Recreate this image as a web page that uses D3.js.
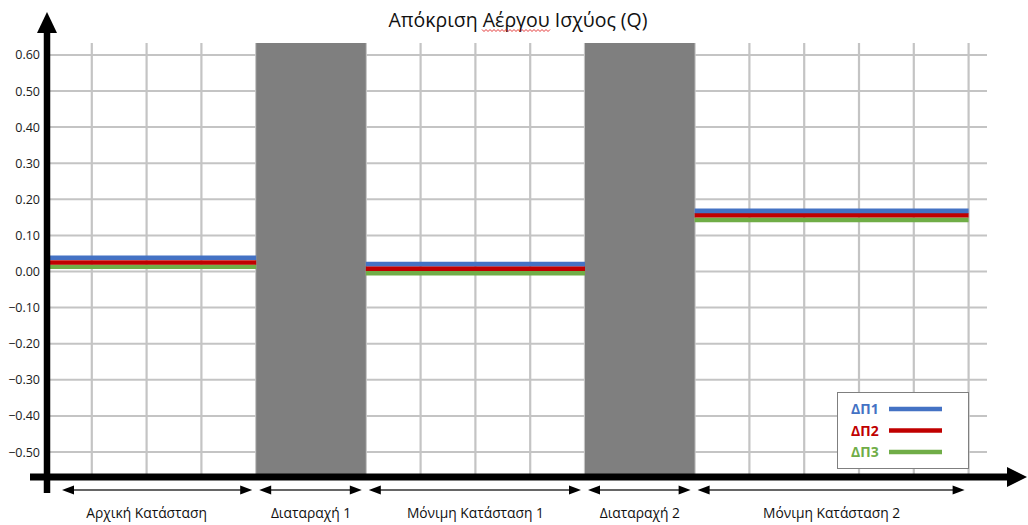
<!DOCTYPE html>
<html>
<head>
<meta charset="utf-8">
<script src="https://cdn.jsdelivr.net/npm/d3@7"></script>
<style>
  html, body { margin: 0; padding: 0; background: #fff; }
  svg { display: block; font-family: "Open Sans", "Noto Sans", sans-serif; }
</style>
</head>
<body>
<svg id="chart" width="1028" height="525"></svg>
<script>
// Operating phases along the time axis and their relative durations (grid units)
const phases = ["Αρχική Κατάσταση", "Διαταραχή 1", "Μόνιμη Κατάσταση 1", "Διαταραχή 2", "Μόνιμη Κατάσταση 2"];
const durations = [4, 2, 4, 2, 5];
const disturbance = [false, true, false, true, false];

// Reactive power response per distributed generator (null during disturbances)
const seriesNames = ["ΔΠ1", "ΔΠ2", "ΔΠ3"];
const dp1 = [0.038, null, 0.021, null, 0.168];
const dp2 = [0.025, null, 0.008, null, 0.156];
const dp3 = [0.013, null, -0.005, null, 0.143];
const seriesColors = ["#4472C4", "#C00000", "#70AD47"];

const yTicks = [0.6, 0.5, 0.4, 0.3, 0.2, 0.1, 0.0, -0.1, -0.2, -0.3, -0.4, -0.5];

const svg = d3.select("#chart");

// Plot frame
const axisX = 47, axisY = 477, plotTop = 43, plotRight = 987;

// Cumulative phase boundaries
const bounds = [0];
durations.forEach(d => bounds.push(bounds[bounds.length - 1] + d));
const total = bounds[bounds.length - 1];

const x = d3.scaleLinear().domain([0, total]).range([37, 968.6]);
const y = d3.scaleLinear().domain([-0.572, 0.633]).range([478, 43]);

svg.append("clipPath").attr("id", "plotClip")
  .append("rect").attr("x", axisX).attr("y", plotTop)
  .attr("width", plotRight - axisX).attr("height", axisY - plotTop);

const plot = svg.append("g").attr("clip-path", "url(#plotClip)");

// Horizontal grid
plot.append("g").selectAll("line").data(yTicks).join("line")
  .attr("x1", axisX).attr("x2", plotRight)
  .attr("y1", d => y(d)).attr("y2", d => y(d))
  .attr("stroke", "#c4c4c4").attr("stroke-width", 2);

// Vertical grid (one line per grid unit)
const xGrid = d3.range(1, total + 1);
plot.append("g").selectAll("line").data(xGrid).join("line")
  .attr("x1", d => x(d)).attr("x2", d => x(d))
  .attr("y1", plotTop).attr("y2", axisY)
  .attr("stroke", "#c4c4c4").attr("stroke-width", 2.2);

// Disturbance bands
plot.append("g").selectAll("rect")
  .data(phases.map((p, i) => ({ i, x0: bounds[i], x1: bounds[i + 1] })).filter(d => disturbance[d.i]))
  .join("rect")
  .attr("x", d => x(d.x0)).attr("width", d => x(d.x1) - x(d.x0))
  .attr("y", plotTop).attr("height", axisY - plotTop)
  .attr("fill", "#7f7f7f");

// Series segments (drawn green first so blue sits on top)
const series = [dp1, dp2, dp3];
[2, 1, 0].forEach(s => {
  plot.append("g").selectAll("line")
    .data(series[s].map((v, i) => ({ v, i })).filter(d => d.v !== null))
    .join("line")
    .attr("x1", d => x(bounds[d.i])).attr("x2", d => x(bounds[d.i + 1]))
    .attr("y1", d => y(d.v)).attr("y2", d => y(d.v))
    .attr("stroke", seriesColors[s]).attr("stroke-width", 4.6);
});

// Y tick labels
svg.append("g").selectAll("text").data(yTicks).join("text")
  .attr("x", 40).attr("y", d => y(d))
  .attr("dy", "0.36em")
  .attr("text-anchor", "end")
  .attr("font-size", 12.5).attr("fill", "#1a1a1a")
  .text(d => d3.format(".2f")(d));

// Axes with arrowheads
svg.append("line").attr("x1", axisX).attr("x2", axisX).attr("y1", 30).attr("y2", 493)
  .attr("stroke", "#000").attr("stroke-width", 6.5);
svg.append("path").attr("d", `M${axisX},12 L${axisX - 10},33 L${axisX + 10},33 Z`).attr("fill", "#000");
svg.append("line").attr("x1", 30).attr("x2", 1010).attr("y1", axisY).attr("y2", axisY)
  .attr("stroke", "#000").attr("stroke-width", 7);
svg.append("path").attr("d", `M1027,${axisY} L1007,${axisY - 10} L1007,${axisY + 10} Z`).attr("fill", "#000");

// Phase span arrows and labels
const arrowY = 490;
const spans = phases.map((p, i) => {
  const left = Math.max(x(bounds[i]), axisX + 8);
  return { p, a: i === 0 ? left + 7 : left + 3, b: x(bounds[i + 1]) - 4, c: (x(bounds[i]) + x(bounds[i + 1])) / 2 };
});
const arrows = svg.append("g");
spans.forEach(s => {
  arrows.append("line").attr("x1", s.a + 6).attr("x2", s.b - 6)
    .attr("y1", arrowY).attr("y2", arrowY).attr("stroke", "#333").attr("stroke-width", 1.3);
  arrows.append("path").attr("d", `M${s.a},${arrowY} L${s.a + 12},${arrowY - 4.5} L${s.a + 12},${arrowY + 4.5} Z`).attr("fill", "#000");
  arrows.append("path").attr("d", `M${s.b},${arrowY} L${s.b - 12},${arrowY - 4.5} L${s.b - 12},${arrowY + 4.5} Z`).attr("fill", "#000");
});
svg.append("g").selectAll("text").data(spans).join("text")
  .attr("x", d => d.c).attr("y", 518)
  .attr("text-anchor", "middle").attr("font-size", 13.8).attr("fill", "#111")
  .text(d => d.p);

// Title
svg.append("text").attr("x", 518).attr("y", 27)
  .attr("text-anchor", "middle").attr("font-size", 19.5).attr("fill", "#111")
  .text("Απόκριση Αέργου Ισχύος (Q)");

// Spell-check style squiggle under the second word
const sq = [];
for (let px = 482, k = 0; px <= 550; px += 2, k++) sq.push([px, k % 2 ? 31.5 : 29.5]);
svg.append("path").attr("d", d3.line()(sq)).attr("fill", "none")
  .attr("stroke", "#e02020").attr("stroke-width", 0.9);

// Legend
const lg = svg.append("g");
lg.append("rect").attr("x", 837.5).attr("y", 392.5).attr("width", 131).attr("height", 76)
  .attr("fill", "#fff").attr("stroke", "#7f7f7f").attr("stroke-width", 1);
const legendRows = [409, 430.5, 452];
seriesNames.forEach((n, i) => {
  lg.append("text").attr("x", 851).attr("y", legendRows[i]).attr("dy", "0.36em")
    .attr("font-size", 14).attr("font-weight", "bold").attr("fill", seriesColors[i]).text(n);
  lg.append("line").attr("x1", 889).attr("x2", 942)
    .attr("y1", legendRows[i]).attr("y2", legendRows[i])
    .attr("stroke", seriesColors[i]).attr("stroke-width", 4.5);
});
</script>
</body>
</html>
